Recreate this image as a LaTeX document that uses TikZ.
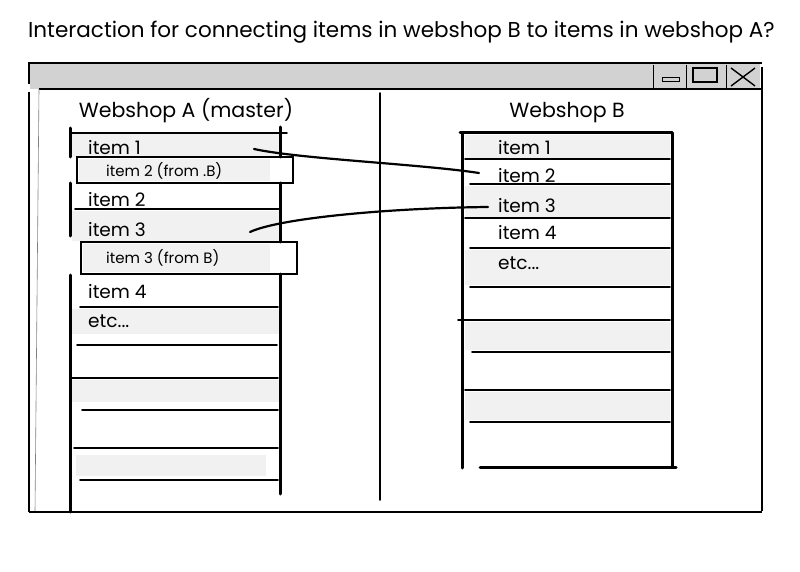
\documentclass[tikz,border=0pt]{standalone}
\usepackage{fontspec}
\setmainfont{Poppins}
\definecolor{rowgray}{HTML}{F1F1F1}
\definecolor{bargray}{HTML}{D2D2D2}
\tikzset{
  x=1pt, y=-1pt,
  thick line/.style={line width=3pt, line cap=round},
  rule line/.style={line width=1.6pt, line cap=round},
  win line/.style={line width=2pt},
  thin line/.style={line width=0.8pt},
  itemtxt/.style={anchor=base west, inner sep=0pt, font=\fontsize{18.5}{18.5}\selectfont},
  smalltxt/.style={anchor=base west, inner sep=0pt, font=\fontsize{15}{15}\selectfont},
  headtxt/.style={anchor=base, inner sep=0pt, font=\fontsize{20.5}{20.5}\selectfont},
  link/.style={line width=2.2pt, line cap=round},
}
\begin{document}
\begin{tikzpicture}
\useasboundingbox (0,0) rectangle (800,572);
% title
\node[anchor=base west, inner sep=0pt, font=\fontsize{21.5}{21.5}\selectfont] (title) at (28,38) {Interaction for connecting items in webshop B to items in webshop A?};
% window title bar
\fill[bargray] (30,64) rectangle (760,89);
\draw[win line] (30,63) -- (762,63);
\draw[win line] (39,89) -- (762,89);
\draw[win line] (29,62) -- (29,84);
\draw[win line] (29,92) -- (29,512);
\draw[line width=0.6pt, gray] (39,89) -- (35,512);
\draw[win line] (762,67) -- (762,511);
\draw[win line] (29,512) -- (762,512);
% buttons
\draw[thin line] (653,65) -- (653,89);
\draw[thin line] (686,65) -- (686,89);
\draw[thin line] (726,65) -- (726,89);
\draw[line width=1pt] (662,78) rectangle (679,82);
\draw[line width=1.2pt] (693,68) rectangle (717,82);
\draw[line width=1.4pt] (731,68) -- (755,86);
\draw[line width=1.4pt] (755,68) -- (731,86);
% divider
\draw[rule line] (380,93) -- (380,500);
% headers
\node[headtxt] (hA) at (186,118) {Webshop A (master)};
\node[headtxt] (hB) at (567,118) {Webshop B};

% ---------- left list ----------
\fill[rowgray] (72,134) rectangle (279,157);
\fill[rowgray] (79,159) rectangle (270,181);
\fill[rowgray] (72,211) rectangle (279,241);
\fill[rowgray] (83,244) rectangle (270,272);
\fill[rowgray] (72,309) rectangle (279,334);
\fill[rowgray] (72,380) rectangle (279,402);
\fill[rowgray] (76,455) rectangle (266,476);
\draw[thick line] (70,128) -- (70,157);
\draw[thick line] (70,183) -- (70,236);
\draw[thick line] (70,275) -- (70,512);
\draw[thick line] (280,127) -- (280,157);
\draw[thick line] (280,183) -- (280,242);
\draw[thick line] (280,274) -- (280,494);
\draw[rule line] (70,133) -- (287,133);
\draw[rule line] (77,157) rectangle (293,183);
\draw[rule line] (75,209) -- (280,209);
\draw[rule line] (81,242) rectangle (297,274);
\draw[rule line] (80,307) -- (278,307);
\draw[rule line] (77,345) -- (277,345);
\draw[rule line] (72,378) -- (278,378);
\draw[rule line] (82,410) -- (278,410);
\draw[rule line] (74,448) -- (278,448);
\draw[rule line] (80,480) -- (278,480);
\node[itemtxt] (a1) at (88,155) {item 1};
\node[smalltxt] (a2b) at (106,177) {item 2 (from .B)};
\node[itemtxt] (a2) at (88,207) {item 2};
\node[itemtxt] (a3) at (88,236) {item 3};
\node[smalltxt] (a3b) at (106,263) {item 3 (from B)};
\node[itemtxt] (a4) at (88,298) {item 4};
\node[itemtxt] (a5) at (88,327) {etc...};

% ---------- right list ----------
\fill[rowgray] (465,135) rectangle (670,158);
\fill[rowgray] (465,186) rectangle (670,217);
\fill[rowgray] (465,250) rectangle (670,285);
\fill[rowgray] (465,322) rectangle (670,350);
\fill[rowgray] (465,392) rectangle (670,420);
\draw[thick line] (462,134) -- (462,468);
\draw[thick line] (672,133) -- (672,467);
\draw[thick line] (460,133) -- (672,133);
\draw[thick line] (480,467) -- (676,467);
\draw[rule line] (465,159) -- (670,159);
\draw[rule line] (470,184) -- (670,184);
\draw[rule line] (465,218) -- (670,218);
\draw[rule line] (470,248) -- (670,248);
\draw[rule line] (470,287) -- (670,287);
\draw[rule line] (458,320) -- (670,320);
\draw[rule line] (472,352) -- (670,352);
\draw[rule line] (465,390) -- (670,390);
\draw[rule line] (470,422) -- (670,422);
\node[itemtxt] (b1) at (498,155) {item 1};
\node[itemtxt] (b2) at (498,183) {item 2};
\node[itemtxt] (b3) at (498,212) {item 3};
\node[itemtxt] (b4) at (498,240) {item 4};
\node[itemtxt] (b5) at (498,269) {etc...};

% connectors
\coordinate (s1) at ([xshift=166pt,yshift=6pt]a1.base west);
\coordinate (e1) at ([xshift=-19pt,yshift=10pt]b2.base west);
\coordinate (s2) at ([xshift=162pt,yshift=4pt]a3.base west);
\coordinate (e2) at ([xshift=-10pt,yshift=5pt]b3.base west);
\draw[link] (s1) .. controls (300,159) and (420,164) .. (e1);
\draw[link] (s2) .. controls (280,218) and (390,208) .. (e2);
\end{tikzpicture}
\end{document}
